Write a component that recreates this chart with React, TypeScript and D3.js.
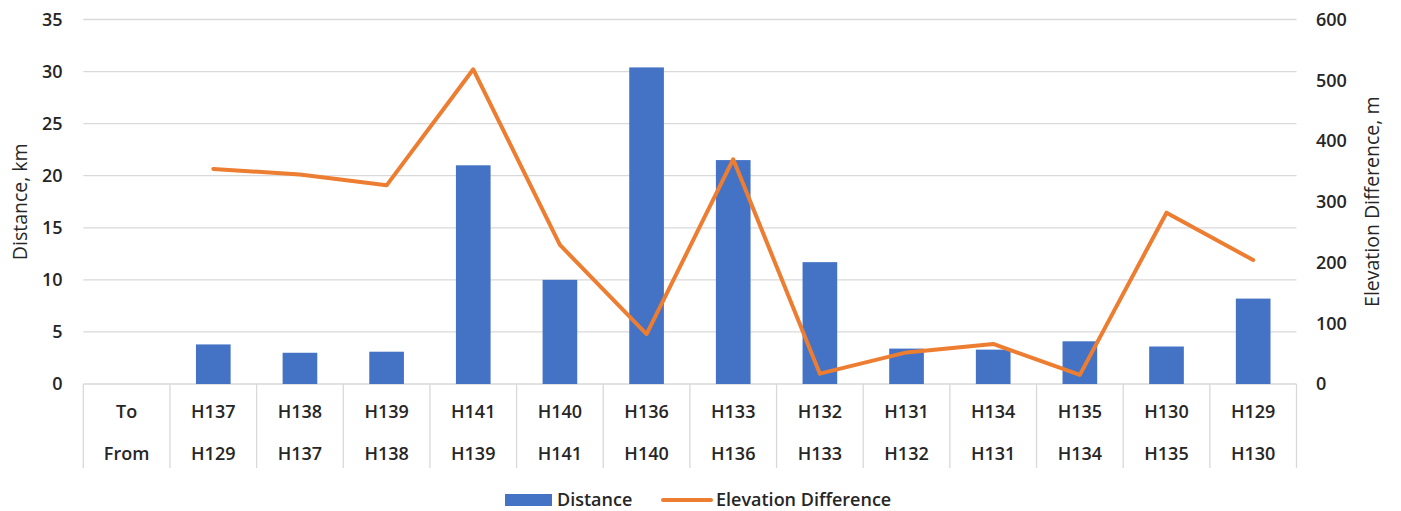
import React, { useEffect, useRef } from 'react';
import * as d3 from 'd3';

// category labels (row 1 = "To", row 2 = "From")
const toLabels = ['To', 'H137', 'H138', 'H139', 'H141', 'H140', 'H136', 'H133', 'H132', 'H131', 'H134', 'H135', 'H130', 'H129'];
const fromLabels = ['From', 'H129', 'H137', 'H138', 'H139', 'H141', 'H140', 'H136', 'H133', 'H132', 'H131', 'H134', 'H135', 'H130'];

// Distance, km (left axis)
const distance: (number | null)[] = [null, 3.8, 3.0, 3.1, 21.0, 10.0, 30.4, 21.5, 11.7, 3.4, 3.3, 4.1, 3.6, 8.2];
// Elevation difference, m (right axis)
const elevation: (number | null)[] = [null, 354, 345, 327, 518, 229, 82, 370, 17, 52, 66, 15, 282, 204];

const leftTicks = [0, 5, 10, 15, 20, 25, 30, 35];
const rightTicks = [0, 100, 200, 300, 400, 500, 600];

const WIDTH = 1401;
const HEIGHT = 511;
const FONT = '"Open Sans", Lato, sans-serif';
const FONT_SIZE = 18;
const WEIGHT = 600;
const TEXT = '#262626';
const GRID = '#D9D9D9';
const BLUE = '#4472C4';
const ORANGE = '#ED7D31';

const App: React.FC = () => {
    const svgRef = useRef<SVGSVGElement>(null);

    useEffect(() => {
        if (!svgRef.current) return;
        const svg = d3.select(svgRef.current);
        svg.selectAll('*').remove();

        const left = 83.3, right = 1296.5, top = 19.5, bottom = 384;

        const x = d3.scaleBand<number>()
            .domain(d3.range(toLabels.length))
            .range([left, right])
            .padding(0);

        const yL = d3.scaleLinear().domain([0, 35]).range([bottom, top]);
        const yR = d3.scaleLinear().domain([0, 600]).range([bottom, top]);

        const label = (sel: d3.Selection<any, any, any, any>) =>
            sel.attr('font-family', FONT)
                .attr('font-size', FONT_SIZE)
                .attr('font-weight', WEIGHT)
                .attr('fill', TEXT);

        // gridlines
        svg.append('g')
            .selectAll('line')
            .data(leftTicks)
            .join('line')
            .attr('x1', left)
            .attr('x2', right)
            .attr('y1', d => yL(d))
            .attr('y2', d => yL(d))
            .attr('stroke', GRID)
            .attr('stroke-width', 1.3);

        // category table lines
        const bounds = d3.range(toLabels.length + 1).map(i => left + i * x.bandwidth());
        svg.append('g')
            .selectAll('line')
            .data(bounds)
            .join('line')
            .attr('x1', d => d)
            .attr('x2', d => d)
            .attr('y1', bottom)
            .attr('y2', 468)
            .attr('stroke', GRID)
            .attr('stroke-width', 1.3);

        // bars
        const barW = x.bandwidth() * 0.4;
        svg.append('g')
            .selectAll('rect')
            .data(distance.map((v, i) => ({ v, i })).filter(d => d.v !== null))
            .join('rect')
            .attr('x', d => x(d.i)! + x.bandwidth() / 2 - barW / 2)
            .attr('width', barW)
            .attr('y', d => yL(d.v as number))
            .attr('height', d => bottom - yL(d.v as number))
            .attr('fill', BLUE);

        // line
        const line = d3.line<number | null>()
            .defined(d => d !== null)
            .x((_, i) => x(i)! + x.bandwidth() / 2)
            .y(d => yR(d as number));

        svg.append('path')
            .datum(elevation)
            .attr('fill', 'none')
            .attr('stroke', ORANGE)
            .attr('stroke-width', 4)
            .attr('stroke-linejoin', 'round')
            .attr('stroke-linecap', 'round')
            .attr('d', line);

        // left tick labels
        svg.append('g')
            .selectAll('text')
            .data(leftTicks)
            .join('text')
            .attr('x', 62.5)
            .attr('y', d => yL(d))
            .attr('dy', '0.35em')
            .attr('text-anchor', 'end')
            .call(label)
            .text(d => d);

        // right tick labels
        svg.append('g')
            .selectAll('text')
            .data(rightTicks)
            .join('text')
            .attr('x', 1316)
            .attr('y', d => yR(d))
            .attr('dy', '0.35em')
            .attr('text-anchor', 'start')
            .call(label)
            .text(d => d);

        // category labels
        const catRow = (labels: string[], yc: number) =>
            svg.append('g')
                .selectAll('text')
                .data(labels)
                .join('text')
                .attr('x', (_, i) => x(i)! + x.bandwidth() / 2)
                .attr('y', yc)
                .attr('dy', '0.35em')
                .attr('text-anchor', 'middle')
                .call(label)
                .text(d => d);
        catRow(toLabels, 412);
        catRow(fromLabels, 454);

        // axis titles (regular weight, slightly larger)
        svg.append('text')
            .attr('transform', `translate(20,${(top + bottom) / 2}) rotate(-90)`)
            .attr('dy', '0.35em')
            .attr('text-anchor', 'middle')
            .call(label)
            .attr('font-weight', 400)
            .attr('font-size', 19.5)
            .text('Distance, km');

        svg.append('text')
            .attr('transform', `translate(1372,${(top + bottom) / 2}) rotate(-90)`)
            .attr('dy', '0.35em')
            .attr('text-anchor', 'middle')
            .call(label)
            .attr('font-weight', 400)
            .attr('font-size', 19.5)
            .text('Elevation Difference, m');

        // legend
        const lg = svg.append('g');
        lg.append('rect')
            .attr('x', 505).attr('y', 494)
            .attr('width', 47).attr('height', 12)
            .attr('fill', BLUE);
        lg.append('text')
            .attr('x', 557).attr('y', 500)
            .attr('dy', '0.35em')
            .call(label)
            .text('Distance');
        lg.append('line')
            .attr('x1', 663).attr('x2', 711)
            .attr('y1', 500).attr('y2', 500)
            .attr('stroke', ORANGE)
            .attr('stroke-width', 4)
            .attr('stroke-linecap', 'round');
        lg.append('text')
            .attr('x', 716).attr('y', 500)
            .attr('dy', '0.35em')
            .call(label)
            .text('Elevation Difference');
    }, []);

    return (
        <svg
            ref={svgRef}
            width={WIDTH}
            height={HEIGHT}
            style={{ position: 'absolute', left: 0, top: 0, background: '#fff', display: 'block' }}
        />
    );
};

export default App;
